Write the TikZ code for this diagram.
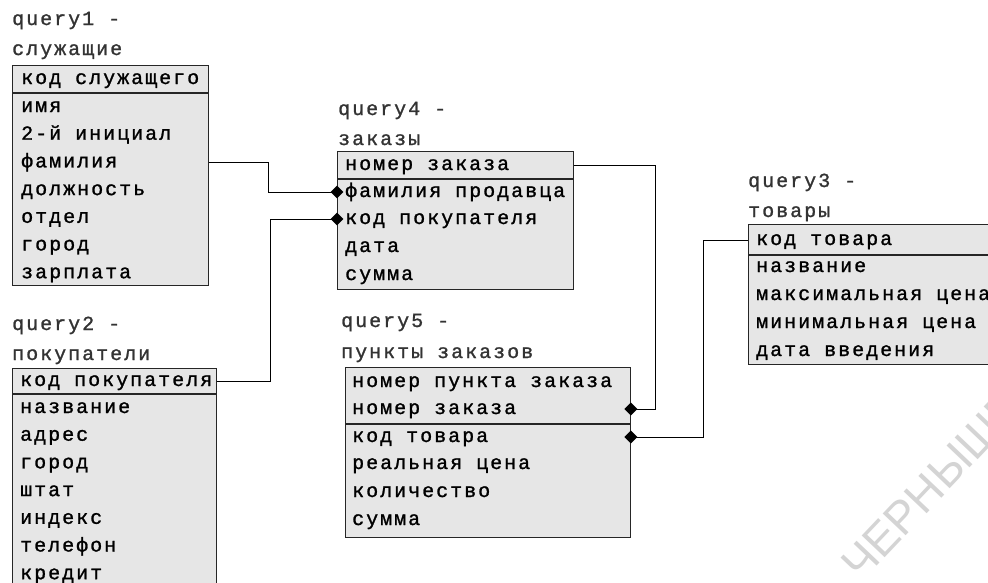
\documentclass[tikz,border=0pt]{standalone}
\usepackage{fontspec}
\usetikzlibrary{shapes.geometric}
\newfontfamily\tabfont{Liberation Mono}[LetterSpace=10, FakeBold=1.2]
\newfontfamily\wmfont{Liberation Sans}
\definecolor{tabgray}{HTML}{E6E6E6}
\tikzset{
  hbox/.style={draw=black!85, fill=tabgray, line width=0.9pt, inner sep=0pt, anchor=north west},
  row/.style={anchor=west, inner sep=0pt, text height=10pt, text depth=0pt,
              font=\tabfont\fontsize{20}{22}\selectfont, text=black},
  ttl/.style={row, text=black!80},
  seprule/.style={draw=black!85, line width=1.6pt},
  link/.style={draw=black, line width=1pt},
  dia/.style={diamond, fill=black, inner sep=0pt, minimum width=13pt, minimum height=13pt}
}
\begin{document}
\begin{tikzpicture}[x=1pt,y=-1pt]
\useasboundingbox (0,0) rectangle (988,582);
\clip (0,0) rectangle (988,582);
\fill[white] (0,0) rectangle (988,582);

% watermark
\node[rotate=46.5, anchor=west, inner sep=0pt, text=black!17,
      font=\wmfont\fontsize{46}{46}\selectfont] (wm) at (850,572) {ЧЕРНЫШЕВСКОГО};

% ---------- query1
\node[ttl] (q1a) at (12,20) {query1 -};
\node[ttl] (q1b) at (12,50) {служащие};
\node[hbox, minimum width=196pt, minimum height=27pt] (t1h) at (12,65) {};
\node[hbox, minimum width=196pt, minimum height=193pt] (t1b) at (12,92) {};
\draw[seprule] (t1h.south west) -- (t1h.south east);
\node[row] (t1k) at (21,79) {код служащего};
\node[row] (t1r1) at (21,107) {имя};
\node[row] (t1r2) at (21,134.7) {2-й инициал};
\node[row] (t1r3) at (21,162.4) {фамилия};
\node[row] (t1r4) at (21,190.1) {должность};
\node[row] (t1r5) at (21,217.8) {отдел};
\node[row] (t1r6) at (21,245.5) {город};
\node[row] (t1r7) at (21,273.2) {зарплата};

% ---------- query2
\node[ttl] (q2a) at (12,325) {query2 -};
\node[ttl] (q2b) at (12,355) {покупатели};
\node[hbox, minimum width=204pt, minimum height=25pt] (t2h) at (12,368) {};
\node[hbox, minimum width=204pt, minimum height=240pt] (t2b) at (12,393) {};
\draw[seprule] (t2h.south west) -- (t2h.south east);
\node[row] (t2k) at (20,381) {код покупателя};
\node[row] (t2r1) at (20,408) {название};
\node[row] (t2r2) at (20,435.7) {адрес};
\node[row] (t2r3) at (20,463.4) {город};
\node[row] (t2r4) at (20,491.1) {штат};
\node[row] (t2r5) at (20,518.8) {индекс};
\node[row] (t2r6) at (20,546.5) {телефон};
\node[row] (t2r7) at (20,574.2) {кредит};

% ---------- query4
\node[ttl] (q4a) at (338,110) {query4 -};
\node[ttl] (q4b) at (338,140) {заказы};
\node[hbox, minimum width=236pt, minimum height=27pt] (t4h) at (337,151) {};
\node[hbox, minimum width=236pt, minimum height=111pt] (t4b) at (337,178) {};
\draw[seprule] (t4h.south west) -- (t4h.south east);
\node[row] (t4k) at (345,165) {номер заказа};
\node[row] (t4r1) at (345,192) {фамилия продавца};
\node[row] (t4r2) at (345,219) {код покупателя};
\node[row] (t4r3) at (345,247) {дата};
\node[row] (t4r4) at (345,275) {сумма};

% ---------- query5
\node[ttl] (q5a) at (341,322) {query5 -};
\node[ttl] (q5b) at (341,353) {пункты заказов};
\node[hbox, minimum width=285pt, minimum height=56pt] (t5h) at (345,367) {};
\node[hbox, minimum width=285pt, minimum height=114pt] (t5b) at (345,423) {};
\draw[seprule] (t5h.south west) -- (t5h.south east);
\node[row] (t5k1) at (352,382) {номер пункта заказа};
\node[row] (t5k2) at (352,409) {номер заказа};
\node[row] (t5r1) at (352,437) {код товара};
\node[row] (t5r2) at (352,464) {реальная цена};
\node[row] (t5r3) at (352,492) {количество};
\node[row] (t5r4) at (352,520) {сумма};

% ---------- query3
\node[ttl] (q3a) at (748,182) {query3 -};
\node[ttl] (q3b) at (748,212) {товары};
\node[hbox, minimum width=260pt, minimum height=30pt] (t3h) at (748,224) {};
\node[hbox, minimum width=260pt, minimum height=110pt] (t3b) at (748,254) {};
\draw[seprule] (t3h.south west) -- (t3h.south east);
\node[row] (t3k) at (756,240) {код товара};
\node[row] (t3r1) at (756,267) {название};
\node[row] (t3r2) at (756,295) {максимальная цена};
\node[row] (t3r3) at (756,323) {минимальная цена};
\node[row] (t3r4) at (756,351) {дата введения};

% ---------- connectors
\coordinate (c1a) at (268,0);
\coordinate (c2a) at (270,0);
\coordinate (c3a) at (655,0);
\coordinate (c4a) at (703,0);

\node[dia] (d1) at (t4b.west |- t4r1) {};
\node[dia] (d2) at (t4b.west |- t4r2) {};
\node[dia] (d3) at (t5h.east |- t5k2) {};
\node[dia] (d4) at (t5b.east |- t5r1) {};

\draw[link] (t1b.east |- t1r3) -- (c1a |- t1r3) -- (c1a |- d1) -- (d1.center);
\draw[link] (t2h.east |- t2k) -- (c2a |- t2k) -- (c2a |- d2) -- (d2.center);
\draw[link] (t4h.east |- t4k) -- (c3a |- t4k) -- (c3a |- d3) -- (d3.center);
\draw[link] (d4.center) -- (c4a |- d4) -- (c4a |- t3k) -- (t3h.west |- t3k);
\end{tikzpicture}
\end{document}
